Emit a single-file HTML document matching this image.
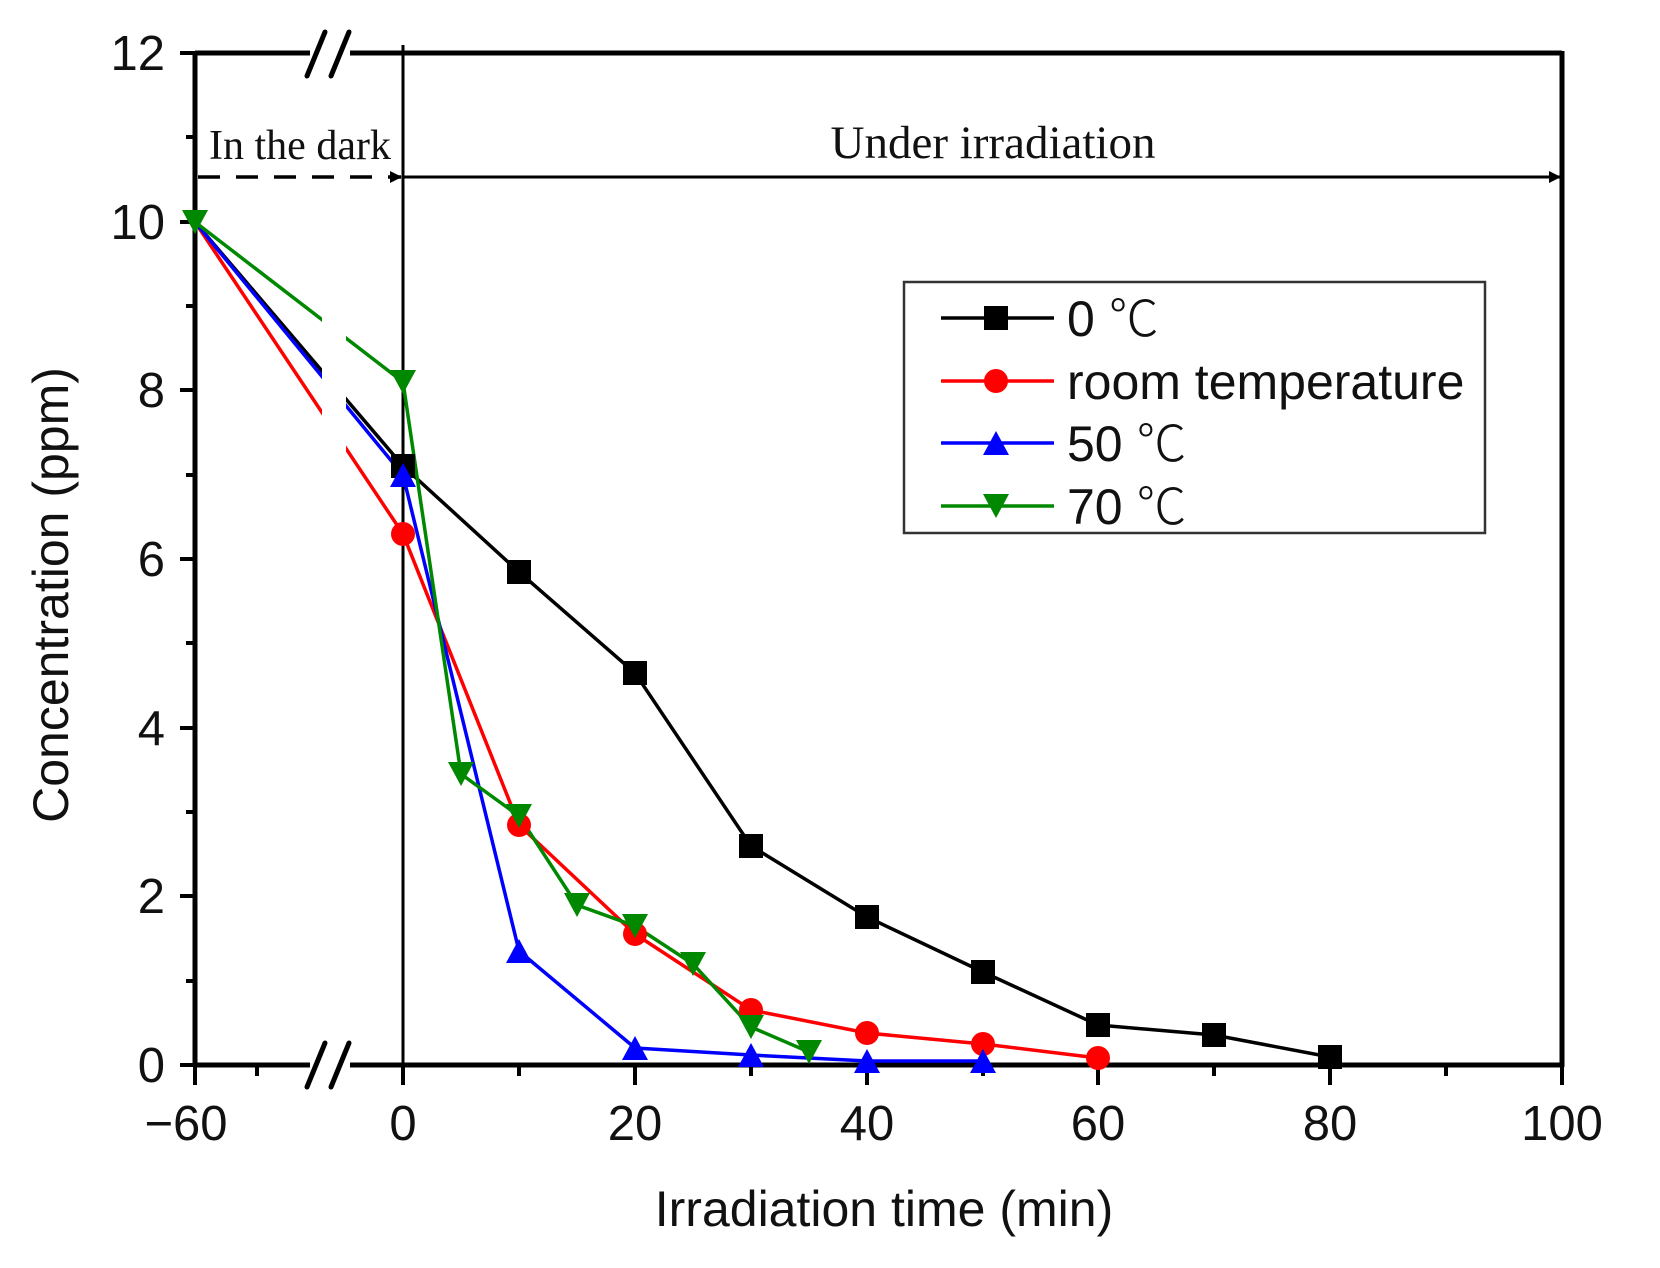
<!DOCTYPE html>
<html><head><meta charset="utf-8"><style>
html,body{margin:0;padding:0;background:#fff;}
svg{display:block;}
text{font-family:"Liberation Sans",sans-serif;fill:#111;}
.s{font-family:"Liberation Serif",serif;}
</style></head><body>
<svg width="1660" height="1268" viewBox="0 0 1660 1268" xmlns="http://www.w3.org/2000/svg">
<defs>
<marker id="ah" markerWidth="12" markerHeight="12" refX="11" refY="6" orient="auto" markerUnits="userSpaceOnUse"><path d="M0,0 L12,6 L0,12 Z" fill="#000"/></marker>
</defs>
<g stroke="#000" stroke-width="5" fill="none">
<line x1="195" y1="53" x2="1562" y2="53"/>
<line x1="195" y1="1065" x2="1562" y2="1065"/>
<line x1="195" y1="51" x2="195" y2="1067"/>
<line x1="1562" y1="51" x2="1562" y2="1067"/>
</g>
<line x1="403" y1="45" x2="403" y2="1065" stroke="#000" stroke-width="3"/>
<g stroke="#000" stroke-width="4">
<line x1="180" y1="53" x2="195" y2="53"/><line x1="180" y1="222" x2="195" y2="222"/><line x1="180" y1="390" x2="195" y2="390"/><line x1="180" y1="559" x2="195" y2="559"/><line x1="180" y1="728" x2="195" y2="728"/><line x1="180" y1="896" x2="195" y2="896"/><line x1="180" y1="1065" x2="195" y2="1065"/>
<line x1="186" y1="137" x2="195" y2="137"/><line x1="186" y1="306" x2="195" y2="306"/><line x1="186" y1="475" x2="195" y2="475"/><line x1="186" y1="643" x2="195" y2="643"/><line x1="186" y1="812" x2="195" y2="812"/><line x1="186" y1="981" x2="195" y2="981"/>
<line x1="195" y1="1065" x2="195" y2="1085"/><line x1="403" y1="1065" x2="403" y2="1085"/><line x1="635" y1="1065" x2="635" y2="1085"/><line x1="867" y1="1065" x2="867" y2="1085"/><line x1="1098" y1="1065" x2="1098" y2="1085"/><line x1="1330" y1="1065" x2="1330" y2="1085"/><line x1="1562" y1="1065" x2="1562" y2="1085"/>
<line x1="257" y1="1065" x2="257" y2="1076"/><line x1="519" y1="1065" x2="519" y2="1076"/><line x1="751" y1="1065" x2="751" y2="1076"/><line x1="983" y1="1065" x2="983" y2="1076"/><line x1="1214" y1="1065" x2="1214" y2="1076"/><line x1="1446" y1="1065" x2="1446" y2="1076"/>
</g>
<rect x="310" y="40" width="40" height="30" fill="#fff"/>
<rect x="310" y="1050" width="40" height="30" fill="#fff"/>
<g stroke="#000" stroke-width="5" stroke-linecap="round">
<line x1="307" y1="76" x2="325" y2="32"/><line x1="331" y1="76" x2="349" y2="32"/>
<line x1="307" y1="1087" x2="325" y2="1043"/><line x1="331" y1="1087" x2="349" y2="1043"/>
</g>
<line x1="198" y1="177" x2="401" y2="177" stroke="#000" stroke-width="3.5" stroke-dasharray="22,16" marker-end="url(#ah)"/>
<line x1="403" y1="177" x2="1560" y2="177" stroke="#000" stroke-width="3" marker-end="url(#ah)"/>
<text class="s" x="300" y="159" font-size="42" text-anchor="middle">In the dark</text>
<text class="s" x="993" y="158" font-size="47" text-anchor="middle">Under irradiation</text>
<g fill="none" stroke-width="3.5">
<polyline stroke="#000" points="195,222 403,466 519,572 635,673 751,846 867,917 983,972 1098,1025 1214,1035 1330,1057"/>
<polyline stroke="#f00" points="195,222 403,534 519,825 635,934 751,1010 867,1033 983,1044 1098,1058"/>
<polyline stroke="#00f" points="195,222 403,475 519,951 635,1048 751,1055 867,1061 983,1061"/>
<polyline stroke="#080" points="195,222 403,382 461,774 519,816 577,905 635,926 693,964 751,1027 809,1052"/>
</g>
<rect x="322" y="280" width="24" height="300" fill="#fff"/>
<g fill="#000">
<rect x="391" y="454" width="24" height="24"/><rect x="507" y="560" width="24" height="24"/><rect x="623" y="661" width="24" height="24"/><rect x="739" y="834" width="24" height="24"/><rect x="855" y="905" width="24" height="24"/><rect x="971" y="960" width="24" height="24"/><rect x="1086" y="1013" width="24" height="24"/><rect x="1202" y="1023" width="24" height="24"/><rect x="1318" y="1045" width="24" height="24"/>
</g>
<g fill="#f00">
<circle cx="403" cy="534" r="12"/><circle cx="519" cy="825" r="12"/><circle cx="635" cy="934" r="12"/><circle cx="751" cy="1010" r="12"/><circle cx="867" cy="1033" r="12"/><circle cx="983" cy="1044" r="12"/><circle cx="1098" cy="1058" r="12"/>
</g>
<g fill="#00f">
<path d="M403,463 l13,24 h-26z M519,939 l13,24 h-26z M635,1036 l13,24 h-26z M751,1043 l13,24 h-26z M867,1049 l13,24 h-26z M983,1049 l13,24 h-26z"/>
</g>
<g fill="#080">
<path d="M195,234 l13,-24 h-26z M403,394 l13,-24 h-26z M461,786 l13,-24 h-26z M519,828 l13,-24 h-26z M577,917 l13,-24 h-26z M635,938 l13,-24 h-26z M693,976 l13,-24 h-26z M751,1039 l13,-24 h-26z M809,1064 l13,-24 h-26z"/>
</g>
<g font-size="49">
<text x="165" y="70" text-anchor="end">12</text>
<text x="165" y="239" text-anchor="end">10</text>
<text x="165" y="407" text-anchor="end">8</text>
<text x="165" y="576" text-anchor="end">6</text>
<text x="165" y="745" text-anchor="end">4</text>
<text x="165" y="913" text-anchor="end">2</text>
<text x="165" y="1082" text-anchor="end">0</text>
<text x="186" y="1140" text-anchor="middle">−60</text>
<text x="403" y="1140" text-anchor="middle">0</text>
<text x="635" y="1140" text-anchor="middle">20</text>
<text x="867" y="1140" text-anchor="middle">40</text>
<text x="1098" y="1140" text-anchor="middle">60</text>
<text x="1330" y="1140" text-anchor="middle">80</text>
<text x="1562" y="1140" text-anchor="middle">100</text>
</g>
<text x="884" y="1226" font-size="50" text-anchor="middle">Irradiation time (min)</text>
<text transform="translate(68,595) rotate(-90)" font-size="50" text-anchor="middle">Concentration (ppm)</text>
<rect x="904" y="282" width="581" height="251" fill="#fff" stroke="#333" stroke-width="2.5"/>
<g stroke-width="3.5">
<line x1="941" y1="318" x2="1054" y2="318" stroke="#000"/>
<line x1="941" y1="381" x2="1054" y2="381" stroke="#f00"/>
<line x1="941" y1="443" x2="1054" y2="443" stroke="#00f"/>
<line x1="941" y1="506" x2="1054" y2="506" stroke="#080"/>
</g>
<rect x="984" y="306" width="24" height="24" fill="#000"/>
<circle cx="996" cy="381" r="12" fill="#f00"/>
<path d="M996,431 l13,24 h-26z" fill="#00f"/>
<path d="M996,518 l13,-24 h-26z" fill="#080"/>
<g font-size="50">
<text x="1067" y="336">0 <tspan font-family="'Noto Sans CJK SC',sans-serif" font-weight="300">℃</tspan></text>
<text x="1067" y="399">room temperature</text>
<text x="1067" y="461">50 <tspan font-family="'Noto Sans CJK SC',sans-serif" font-weight="300">℃</tspan></text>
<text x="1067" y="524">70 <tspan font-family="'Noto Sans CJK SC',sans-serif" font-weight="300">℃</tspan></text>
</g>
</svg>
</body></html>
